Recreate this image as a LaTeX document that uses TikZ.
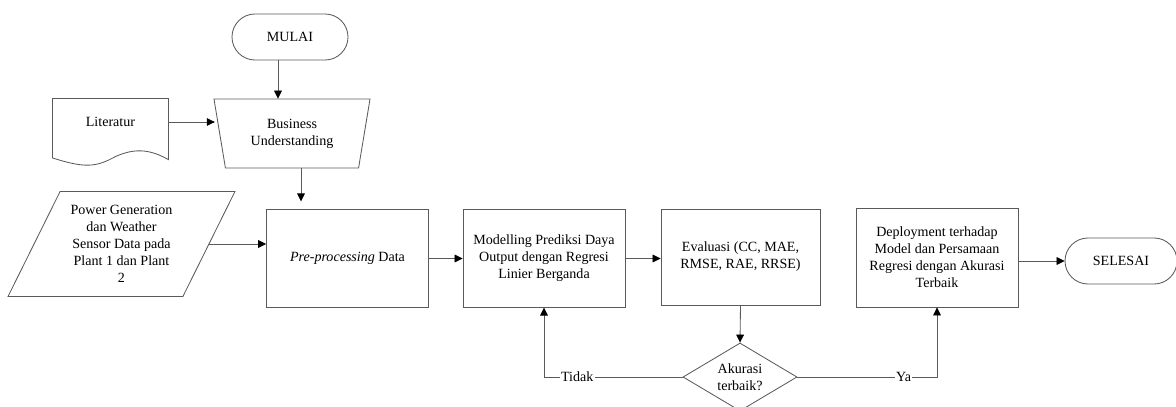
\documentclass[tikz,border=0pt]{standalone}
\usepackage{fontspec}
\setmainfont{Liberation Serif}
\usetikzlibrary{shapes.geometric,arrows.meta,calc}
\definecolor{flowLine}{HTML}{5A5A5A}

\begin{document}
\begin{tikzpicture}[x=0.025cm, y=-0.025cm, line width=0.6pt,
    terminal/.style={draw=flowLine, rounded corners=0.575cm, minimum width=2.9cm, minimum height=1.15cm},
    prosesbox/.style={draw=flowLine, align=center, minimum width=4.05cm, minimum height=2.43cm},
    arus/.style={draw=flowLine, -{Triangle[length=5.7pt,width=5.5pt,color=black]}}]
  \useasboundingbox (0,0) rectangle (1176,407);

  \node[terminal] (mulai) at (290,37) {MULAI};
  \node[draw=flowLine, trapezium, shape border rotate=180, trapezium left angle=68.6, trapezium right angle=68.6,
        trapezium stretches body, minimum width=3.9cm, minimum height=1.725cm, inner sep=0pt, align=center]
        (bu) at (292,133.5) {Business\\Understanding};
  \node[minimum width=2.875cm, minimum height=1.15cm, inner sep=0pt] (lit) at (110.5,122) {Literatur};
  \draw[flowLine] (lit.north west) -- (lit.north east) -- ++(0,61)
      .. controls +(-18,-10) and +(20,-9) .. ++(-53,-3)
      .. controls +(-20,11) and +(32,10) .. (lit.north west |- 0,158) -- cycle;
  \node[minimum width=4.35cm, minimum height=2.6cm, inner sep=0pt, align=center]
        (data) at (121.5,244) {Power Generation\\dan Weather\\Sensor Data pada\\Plant 1 dan Plant\\2};
  \draw[flowLine] ($(data.north west)+(26,0)$) -- ($(data.north east)+(26,0)$)
      -- ($(data.south east)+(-26,0)$) -- ($(data.south west)+(-26,0)$) -- cycle;
  \node[prosesbox] (pre) at (347.5,258.5) {\textit{Pre-processing} Data};
  \node[prosesbox] (model) at (544,258.5) {Modelling Prediksi Daya\\Output dengan Regresi\\Linier Berganda};
  \node[prosesbox, minimum width=3.975cm, minimum height=2.4cm] (eval) at (740.5,257) {Evaluasi (CC, MAE,\\RMSE, RAE, RRSE)};
  \node[prosesbox, minimum height=2.475cm] (deploy) at (937,257.5) {Deployment terhadap\\Model dan Persamaan\\Regresi dengan Akurasi\\Terbaik};
  \node[terminal, minimum width=2.8cm] (selesai) at (1121,261) {SELESAI};
  \node[draw=flowLine, diamond, aspect=1.7, minimum width=2.85cm, minimum height=1.7cm, inner sep=0pt, align=center]
        (cek) at (740,377) {Akurasi\\terbaik?};

  % alur
  \draw[arus] ([xshift=-0.3cm]mulai.south) -- ([xshift=-0.3cm]mulai.south |- bu.north);
  \draw[arus] (lit.east) -- ($(lit.east -| bu.west)+(-4.5,0)$);
  \draw[arus, shorten >=0.2cm] ([xshift=0.225cm]bu.south) -- ([xshift=0.225cm]bu.south |- pre.north);
  \draw[arus] (data.east) -- (data.east -| pre.west);
  \draw[arus] (pre) -- (model);
  \draw[arus] (model.east) -- (model.east -| eval.west);
  \draw[arus] (eval.south) -- (cek.north);
  \draw[arus] (cek.west) -| node[pos=0.38, fill=white, inner sep=1pt] {Tidak} (model.south);
  \draw[arus] (cek.east) -| node[pos=0.38, fill=white, inner sep=1pt] {Ya} (deploy.south);
  \draw[arus] (deploy.east |- selesai.west) -- (selesai.west);
\end{tikzpicture}
\end{document}
